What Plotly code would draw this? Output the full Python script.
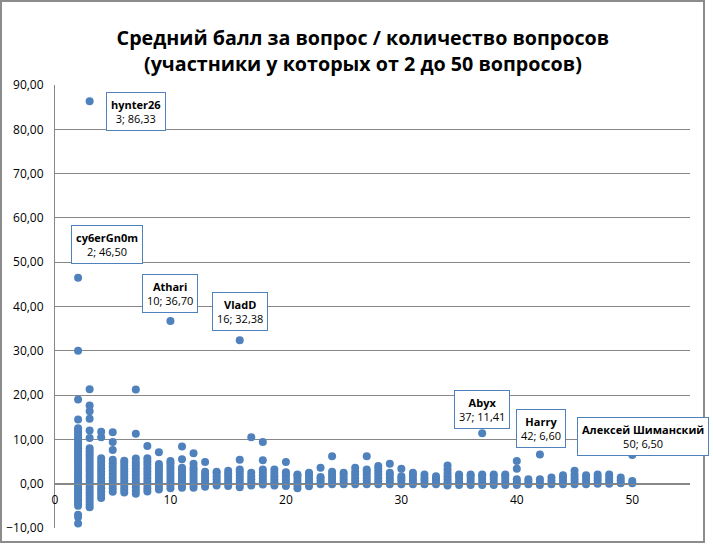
import plotly.graph_objects as go

# число вопросов у участника (ось X)
question_counts = [2, 3, 4, 5, 6, 7, 8, 9, 10, 11, 12, 13, 14, 15, 16, 17, 18, 19, 20,
                   21, 22, 23, 24, 25, 26, 27, 28, 29, 30, 31, 32, 33, 34, 35, 36, 37,
                   38, 39, 40, 41, 42, 43, 44, 45, 46, 47, 48, 49, 50]

# средний балл за вопрос для каждого участника, по группам question_counts
avg_scores = [
    [-9.0, -7.5, -7.0, -5.0, -4.5, -4.0, -3.5, -3.0, -2.5, -2.0, -1.5, -1.0, -0.5, 0.0,
     0.5, 1.0, 1.5, 2.0, 2.5, 3.0, 3.5, 4.0, 4.5, 5.0, 5.5, 6.0, 6.5, 7.0, 7.5, 8.0, 8.5,
     9.0, 9.5, 10.0, 10.5, 11.0, 11.5, 12.0, 12.5, 14.5, 19.0, 30.0],
    [-5.33, -4.67, -4.0, -3.33, -2.67, -2.0, -1.33, -0.67, 0.0, 0.67, 1.33, 2.0, 2.67,
     3.33, 4.0, 4.67, 5.33, 6.0, 6.67, 7.33, 8.0, 10.33, 12.0, 14.67, 16.33, 17.67, 21.33],
    [-3.25, -2.5, -1.75, -1.0, -0.25, 0.5, 1.25, 2.0, 2.75, 3.5, 4.25, 5.0, 5.75, 10.5, 11.75],
    [-1.8, -1.0, -0.2, 0.6, 1.4, 2.2, 3.0, 3.8, 4.6, 5.4, 7.6, 9.4, 11.6],
    [-2.0, -1.33, -0.67, 0.0, 0.67, 1.33, 2.0, 2.67, 3.33, 4.0, 4.67, 5.17],
    [-2.29, -1.57, -0.86, -0.14, 0.57, 1.29, 2.0, 2.71, 3.43, 4.14, 4.86, 5.71, 11.29, 21.29],
    [-1.75, -1.0, -0.25, 0.5, 1.25, 2.0, 2.75, 3.5, 4.25, 5.0, 5.75, 8.5],
    [-1.33, -0.67, 0.0, 0.67, 1.33, 2.0, 2.67, 3.33, 4.0, 4.44, 7.11],
    [-1.0, -0.3, 0.4, 1.1, 1.8, 2.5, 3.2, 3.9, 4.6, 5.1],
    [-0.9, -0.3, 0.3, 0.9, 1.5, 2.1, 2.7, 3.3, 3.6, 5.5, 8.4],
    [-0.9, -0.25, 0.4, 1.1, 1.75, 2.4, 3.1, 3.6, 4.5, 6.9],
    [-0.7, 0.0, 0.7, 1.4, 2.1, 2.7, 4.9],
    [-0.4, 0.3, 1.0, 1.7, 2.4, 2.7],
    [-0.5, 0.2, 0.9, 1.6, 2.3, 2.9],
    [-0.8, -0.1, 0.6, 1.3, 2.0, 2.7, 3.2, 5.4],
    [-0.4, 0.3, 1.0, 1.7, 2.5, 10.5],
    [-0.2, 0.5, 1.2, 1.9, 2.6, 3.2, 5.3, 9.4],
    [-0.4, 0.3, 1.0, 1.7, 2.4, 3.2],
    [-0.5, 0.2, 0.9, 1.6, 2.3, 2.6, 4.9],
    [-1.0, -0.3, 0.4, 1.1, 1.8, 2.1],
    [-0.6, 0.1, 0.8, 1.5, 2.2, 2.5],
    [-0.1, 0.5, 1.1, 1.5, 3.6],
    [-0.1, 0.6, 1.3, 2.0, 2.7, 6.2],
    [-0.1, 0.6, 1.3, 2.0, 2.5],
    [-0.1, 0.6, 1.3, 2.0, 2.7, 3.6],
    [-0.1, 0.6, 1.3, 2.0, 2.7, 3.2, 6.2],
    [-0.1, 0.6, 1.3, 2.0, 2.7, 3.4, 4.0],
    [-0.1, 0.6, 1.3, 2.0, 2.5, 4.5],
    [-0.1, 0.6, 1.2, 1.7, 3.4],
    [-0.1, 0.6, 1.3, 2.0, 2.5],
    [-0.1, 0.6, 1.3, 2.1],
    [-0.1, 0.6, 1.2, 1.7],
    [-0.4, 0.3, 1.0, 1.7, 2.4, 3.2, 4.1],
    [-0.3, 0.4, 1.1, 1.8, 2.1],
    [-0.3, 0.4, 1.1, 1.8, 2.1],
    [-0.3, 0.4, 1.1, 1.8, 2.1],
    [-0.3, 0.4, 1.1, 1.8, 2.1],
    [-0.3, 0.4, 1.1, 1.8, 2.1],
    [-0.3, 0.4, 1.0, 3.4, 5.1],
    [-0.1, 0.5, 1.0],
    [-0.3, 0.4, 1.0],
    [-0.1, 0.6, 1.4],
    [-0.1, 0.6, 1.3, 1.9],
    [-0.1, 0.6, 1.3, 2.0, 2.9],
    [-0.1, 0.6, 1.3, 1.9],
    [0.0, 0.7, 1.4, 2.1],
    [0.0, 0.7, 1.4, 2.1],
    [0.1, 0.8, 1.4],
    [0.1, 0.6],
]

# подписанные участники
label_names = ["hynter26", "cy6erGn0m", "Athari", "VladD", "Abyx", "Harry", "Алексей Шиманский"]
label_counts = [3, 2, 10, 16, 37, 42, 50]
label_scores = [86.33, 46.50, 36.70, 32.38, 11.41, 6.60, 6.50]

y_ticks = [-10, 0, 10, 20, 30, 40, 50, 60, 70, 80, 90]
x_ticks = [0, 10, 20, 30, 40, 50]

BLUE = "#4F81BD"
GRID = "#878787"
FONT = "Open Sans"

# размеры области построения, пиксели
W, H = 713, 545
ML, MR, MT, MB = 55, 23, 85, 17
PW, PH = W - ML - MR, H - MT - MB

xs, ys = [], []
for n, vals in zip(question_counts, avg_scores):
    xs += [n] * len(vals)
    ys += vals
xs += label_counts
ys += label_scores

fig = go.Figure()
fig.add_trace(go.Scatter(
    x=xs, y=ys, mode="markers",
    marker=dict(color=BLUE, size=8, line=dict(width=0)),
    showlegend=False, hoverinfo="x+y",
))

# смещения подписей (пиксели) и якоря
label_style = [
    dict(xanchor="left", yanchor="top", xshift=16, yshift=9),
    dict(xanchor="center", yanchor="bottom", xshift=29, yshift=14),
    dict(xanchor="center", yanchor="bottom", xshift=0, yshift=8),
    dict(xanchor="center", yanchor="bottom", xshift=0, yshift=9),
    dict(xanchor="center", yanchor="bottom", xshift=0, yshift=4),
    dict(xanchor="center", yanchor="bottom", xshift=1, yshift=6),
    dict(xanchor="right", yanchor="bottom", xshift=77, yshift=-1),
]
for name, n, s, st in zip(label_names, label_counts, label_scores, label_style):
    txt = f"<b>{name}</b><br>{n}; " + f"{s:.2f}".replace(".", ",")
    fig.add_annotation(
        x=n, y=s, text=txt, showarrow=False, align="center",
        font=dict(family=FONT, size=11, color="#000000"),
        bgcolor="white", bordercolor=BLUE, borderwidth=1, borderpad=4,
        **st,
    )

fig.update_layout(
    width=W, height=H,
    margin=dict(l=ML, r=MR, t=MT, b=MB, autoexpand=False),
    paper_bgcolor="white", plot_bgcolor="white",
    separators=", ",
    font=dict(family=FONT, size=12, color="#000000"),
    title=dict(
        text="Средний балл за вопрос / количество вопросов<br>(участники у которых от 2 до 50 вопросов)",
        font=dict(family=FONT, size=19.7, color="#000000", weight="bold"),
        x=0.509, xanchor="center", yref="container", y=1 - 45 / H, yanchor="top",
    ),
    xaxis=dict(
        range=[0, 55], tickvals=x_ticks, showgrid=False, zeroline=False,
        anchor="free", position=0.1, showline=True, linecolor=GRID, linewidth=1,
        ticks="outside", ticklen=5, tickcolor="rgba(0,0,0,0)", automargin=False,
    ),
    yaxis=dict(
        range=[-10, 90], tickvals=y_ticks, tickformat=".2f",
        showgrid=True, gridcolor=GRID, gridwidth=1, zeroline=False,
        showline=True, linecolor=GRID, linewidth=1,
        ticks="outside", ticklen=8, tickcolor="rgba(0,0,0,0)", automargin=False,
    ),
)

# рамка области диаграммы
fig.add_shape(type="rect", xref="paper", yref="paper",
              x0=(1 - ML) / PW, x1=(704 - ML) / PW,
              y0=(MT + PH - 542) / PH, y1=(MT + PH - 1) / PH,
              line=dict(color="#8C8C8C", width=2), layer="above")

# страница без отступов, чтобы диаграмма занимала всё окно
fig.write_html("out.html", config={"displayModeBar": False},
               post_script="document.body.style.margin='0';")
